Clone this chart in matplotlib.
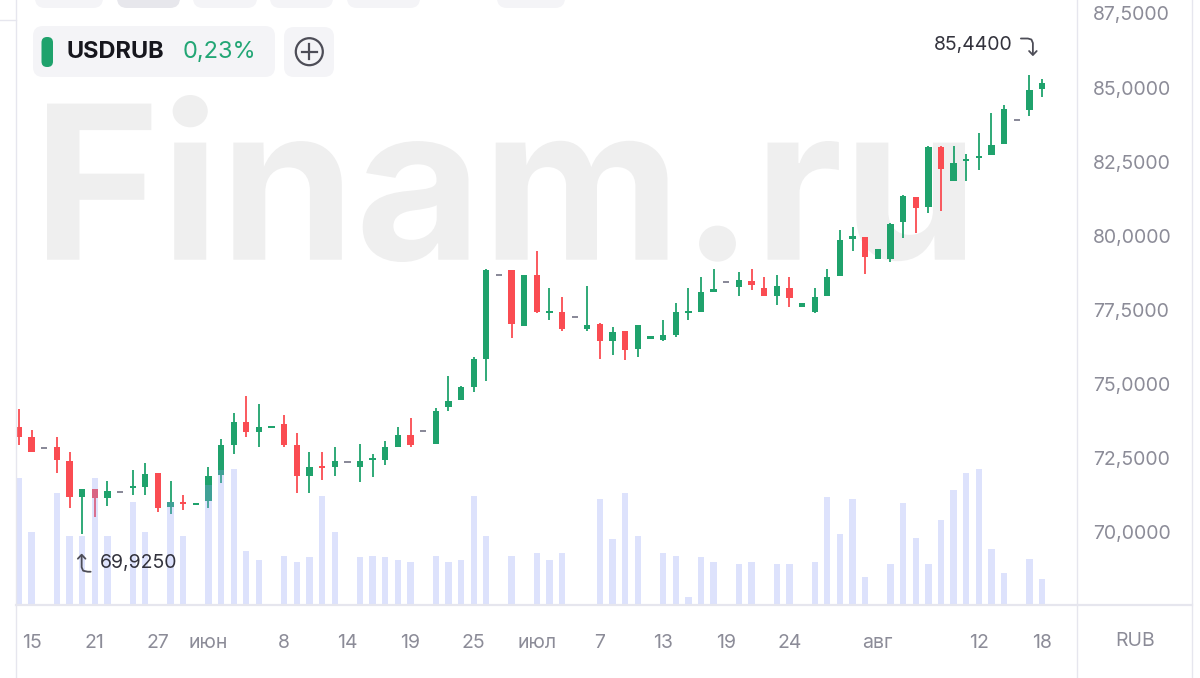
"""USDRUB daily candles with volume, Finam style."""

import numpy as np
import matplotlib.pyplot as plt
from matplotlib.patches import FancyBboxPatch, Circle, PathPatch
from matplotlib.textpath import TextPath
from matplotlib.font_manager import FontProperties
from matplotlib.transforms import Affine2D

plt.rcParams['font.family'] = ['Inter', 'DejaVu Sans']

# daily OHLC
opens = [73.56, 73.22, 72.83, 72.88, 72.41, 71.19, 71.44, 71.14, 71.36, 71.50,
         71.53, 71.98, 70.86, 71.02, 70.92, 71.05, 71.93, 72.94, 73.71, 73.37,
         73.52, 73.64, 72.92, 71.90, 72.21, 72.21, 72.36, 72.21, 72.43, 72.43,
         72.88, 73.28, 73.41, 72.97, 74.23, 74.44, 74.91, 75.84, 78.66, 78.83,
         76.94, 78.68, 77.41, 77.44, 77.25, 76.85, 77.03, 76.43, 76.77, 76.17,
         76.52, 76.49, 76.66, 77.39, 77.44, 78.12, 78.44, 78.27, 78.46, 78.23,
         77.97, 78.23, 77.61, 77.44, 77.97, 78.63, 79.90, 79.97, 79.22, 79.20,
         80.46, 81.30, 80.97, 82.99, 81.86, 82.51, 82.63, 82.71, 83.10, 83.90,
         84.25, 84.96]
highs = [74.16, 73.45, 72.83, 73.22, 72.69, 71.44, 71.44, 71.72, 71.36, 72.09,
         72.34, 71.98, 71.72, 71.25, 70.96, 72.21, 73.14, 74.01, 74.59, 74.32,
         73.56, 73.95, 73.35, 72.71, 72.71, 72.86, 72.36, 72.97, 72.62, 73.07,
         73.56, 73.86, 73.41, 74.18, 75.27, 74.94, 75.90, 78.87, 78.66, 78.83,
         78.68, 79.49, 78.23, 77.93, 77.25, 78.31, 77.05, 76.92, 76.77, 76.99,
         76.63, 77.14, 77.73, 78.23, 78.60, 78.87, 78.44, 78.76, 78.87, 78.60,
         78.68, 78.60, 77.73, 78.23, 78.87, 80.20, 80.29, 79.97, 79.55, 80.44,
         81.39, 81.30, 83.04, 83.04, 83.04, 82.75, 83.48, 84.14, 84.41, 83.90,
         85.44, 85.29]
lows = [72.94, 72.71, 72.83, 71.98, 70.80, 69.925, 70.52, 70.89, 71.36, 71.25,
        71.25, 70.67, 70.61, 70.74, 70.92, 70.80, 71.65, 72.64, 73.22, 72.86,
        73.52, 72.86, 71.33, 71.33, 71.76, 71.90, 72.36, 71.70, 71.85, 72.26,
        72.86, 72.86, 73.41, 72.97, 74.09, 74.44, 74.74, 75.11, 78.66, 76.56,
        76.94, 77.39, 77.14, 76.77, 77.25, 76.77, 75.84, 75.98, 75.79, 75.92,
        76.52, 76.43, 76.58, 77.16, 77.44, 78.12, 78.44, 77.97, 78.18, 77.97,
        77.67, 77.61, 77.61, 77.39, 77.97, 78.63, 79.50, 78.70, 79.22, 79.10,
        79.93, 80.08, 80.76, 80.82, 81.86, 81.84, 82.22, 82.71, 83.10, 83.90,
        84.03, 84.67]
closes = [73.22, 72.71, 72.83, 72.43, 71.19, 71.44, 71.14, 71.39, 71.36, 71.56,
          71.96, 70.80, 71.00, 70.95, 70.96, 71.89, 72.92, 73.71, 73.37, 73.56,
          73.56, 72.92, 71.90, 72.21, 72.15, 72.40, 72.36, 72.40, 72.49, 72.86,
          73.28, 72.92, 73.41, 74.09, 74.43, 74.89, 75.83, 78.83, 78.66, 77.03,
          78.68, 77.44, 77.44, 76.86, 77.25, 76.99, 76.46, 76.75, 76.15, 76.99,
          76.63, 76.66, 77.42, 77.44, 78.10, 78.18, 78.44, 78.51, 78.34, 77.97,
          78.31, 77.90, 77.73, 77.93, 78.60, 79.84, 79.98, 79.28, 79.55, 80.38,
          81.33, 80.95, 82.99, 82.25, 82.45, 82.58, 82.69, 83.07, 84.29, 83.90,
          84.92, 85.15]
volumes = [12.7, 7.3, 0, 11.2, 6.9, 6.9, 12.7, 6.9, 0, 10.3,
           7.3, 0, 10.3, 6.9, 0, 12.0, 13.5, 13.6, 5.4, 4.5,
           0, 4.9, 4.3, 4.8, 10.9, 7.3, 0, 4.8, 4.9, 4.8,
           4.5, 4.3, 0, 4.9, 4.3, 4.5, 10.9, 6.9, 0, 4.9,
           0, 5.2, 4.5, 5.2, 0, 0, 10.6, 6.6, 11.2, 6.9,
           0, 5.2, 4.9, 0.8, 4.8, 4.3, 0, 4.1, 4.3, 0,
           4.1, 4.1, 0, 4.3, 10.8, 7.1, 10.6, 2.8, 0, 4.1,
           10.2, 6.7, 4.1, 8.5, 11.5, 13.2, 13.6, 5.6, 3.2, 0,
           4.6, 2.6]

tick_idx = [1, 6, 11, 15, 21, 26, 31, 36, 41, 46, 51, 56, 61, 68, 76, 81]
tick_labels = ['15', '21', '27', 'июн', '8', '14', '19', '25', 'июл',
               '7', '13', '19', '24', 'авг', '12', '18']
price_ticks = [70.0, 72.5, 75.0, 77.5, 80.0, 82.5, 85.0, 87.5]

GREEN = '#1fa26c'
RED = '#fa4c52'
GREY = '#8a8a99'
LINE = '#e6e6ee'
LABEL = '#8c8c98'

W, H = 1200, 678
fig = plt.figure(figsize=(W / 100, H / 100), dpi=100)
fig.patch.set_facecolor('white')


def rect(x0, y0, x1, y1):
    return [x0 / W, 1 - y1 / H, (x1 - x0) / W, (y1 - y0) / H]


# watermark layer
bg = fig.add_axes([0, 0, 1, 1], zorder=0)
bg.set_xlim(0, W)
bg.set_ylim(H, 0)
bg.axis('off')
tp = TextPath((0, 0), 'Finam.ru', size=100,
              prop=FontProperties(family='Inter', weight='bold'))
ext = tp.get_extents()
tr = (Affine2D().translate(-ext.x0, -ext.y0)
      .scale((965 - 47) / ext.width, -(262 - 95) / ext.height)
      .translate(47, 262))
bg.add_patch(PathPatch(tr.transform_path(tp), fc='#efefef', ec='none'))

# price axes
ax = fig.add_axes(rect(16, 0, 1077, 605), zorder=1)
ax.set_facecolor('none')
ax.set_xlim(-0.2375, 83.77)
ax.set_ylim(70 - 73 / 29.63, 70 + 532 / 29.63)

o = np.array(opens)
h = np.array(highs)
l = np.array(lows)
c = np.array(closes)
idx = np.arange(len(o))
colors = np.where(c > o, GREEN, np.where(c < o, RED, GREY))
ax.vlines(idx, l, h, colors=colors, lw=1.3, zorder=2)
body = np.abs(c - o)
body_h = np.maximum(body, 0.07)
ax.bar(idx, body_h, bottom=np.minimum(o, c) - (body_h - body) / 2,
       width=0.5, color=colors, lw=0, zorder=3)

for s in ax.spines.values():
    s.set_visible(False)
ax.yaxis.tick_right()
ax.set_yticks(price_ticks)
ax.set_yticklabels([f'{v:.4f}'.replace('.', ',') for v in price_ticks])
ax.tick_params(axis='y', length=0, pad=11.5, labelsize=14, labelcolor=LABEL)
ax.set_xticks(tick_idx)
ax.set_xticklabels(tick_labels)
ax.tick_params(axis='x', length=0, pad=21, labelsize=14, labelcolor=LABEL)

# volume bars, drawn over the candles
axv = fig.add_axes(rect(16, 0, 1077, 605), zorder=2, sharex=ax)
axv.axis('off')
axv.set_ylim(0, 60.5)
axv.bar(idx, volumes, width=0.5, color='#8f9ff8', alpha=0.3, lw=0)

# overlay in pixel coordinates
ov = fig.add_axes([0, 0, 1, 1], zorder=3)
ov.set_xlim(0, W)
ov.set_ylim(H, 0)
ov.axis('off')

ov.plot([15.5, 15.5], [0, H], color=LINE, lw=1)
ov.plot([0, 15.5], [20, 20], color=LINE, lw=1)
ov.plot([1077, 1077], [0, H], color=LINE, lw=1)
ov.plot([1192, 1192], [0, H], color=LINE, lw=1)
ov.plot([15.5, 1192], [605, 605], color=LINE, lw=1.6)
ov.text(1135, 641, 'RUB', ha='center', va='center', fontsize=14, color=LABEL)

# top buttons (cut off)
for x0, x1, fc in [(35, 103, '#f4f4f7'), (117, 180, '#e7e7ec'),
                   (193, 257, '#f4f4f7'), (270, 333, '#f4f4f7'),
                   (347, 420, '#f4f4f7'), (497, 565, '#f4f4f7')]:
    ov.add_patch(FancyBboxPatch((x0, -30), x1 - x0, 38,
                                boxstyle='round,pad=0,rounding_size=10',
                                fc=fc, ec='none'))

# legend chip
ov.add_patch(FancyBboxPatch((33, 26), 242, 51,
                            boxstyle='round,pad=0,rounding_size=10',
                            fc='#f4f4f7', ec='none'))
ov.add_patch(FancyBboxPatch((41.5, 37), 11.5, 30,
                            boxstyle='round,pad=0,rounding_size=5.5',
                            fc=GREEN, ec='none'))
ov.text(67, 52, 'USDRUB', va='center', ha='left', fontsize=17,
        fontweight='bold', color='#16161d')
ov.text(183, 52, '0,23%', va='center', ha='left', fontsize=17, color='#22a675')
ov.add_patch(FancyBboxPatch((284, 27), 50, 50,
                            boxstyle='round,pad=0,rounding_size=10',
                            fc='#f4f4f7', ec='none'))
ov.add_patch(Circle((309.3, 51.7), 13.5, fc='none', ec='#4d4d57', lw=1.6))
ov.plot([301.8, 316.8], [51.7, 51.7], color='#4d4d57', lw=1.6)
ov.plot([309.3, 309.3], [44.2, 59.2], color='#4d4d57', lw=1.6)


def to_px(i, v):
    px, py = ax.transData.transform((i, v))
    return px, H - py


# min / max markers
i_lo = int(np.argmin(l))
lx, ly = to_px(i_lo, l[i_lo])
ov.text(lx + 17.5, ly + 29, f'{l[i_lo]:.4f}'.replace('.', ','), ha='left',
        va='center', fontsize=14, color='#33333d')
ax_ = lx - 0.5
ov.plot([ax_, ax_, ax_ + 1.5, ax_ + 6, ax_ + 9],
        [ly + 21, ly + 33, ly + 36.5, ly + 37.5, ly + 37.5],
        color='#4d4d57', lw=1.3, solid_capstyle='round')
ov.plot([ax_ - 3.8, ax_, ax_ + 3.8], [ly + 24.5, ly + 20.5, ly + 24.5],
        color='#4d4d57', lw=1.3, solid_capstyle='round')

i_hi = int(np.argmax(h))
hx, hy = to_px(i_hi, h[i_hi])
ov.text(hx - 17, hy - 29.5, f'{h[i_hi]:.4f}'.replace('.', ','), ha='right',
        va='center', fontsize=14, color='#33333d')
bx = hx + 3.5
ov.plot([bx - 12, bx - 5, bx - 1.5, bx, bx],
        [hy - 36, hy - 36, hy - 35, hy - 31.5, hy - 20],
        color='#4d4d57', lw=1.3, solid_capstyle='round')
ov.plot([bx - 3.8, bx, bx + 3.8], [hy - 23.5, hy - 19.5, hy - 23.5],
        color='#4d4d57', lw=1.3, solid_capstyle='round')

fig.savefig('out.png', dpi=100, facecolor='white')
